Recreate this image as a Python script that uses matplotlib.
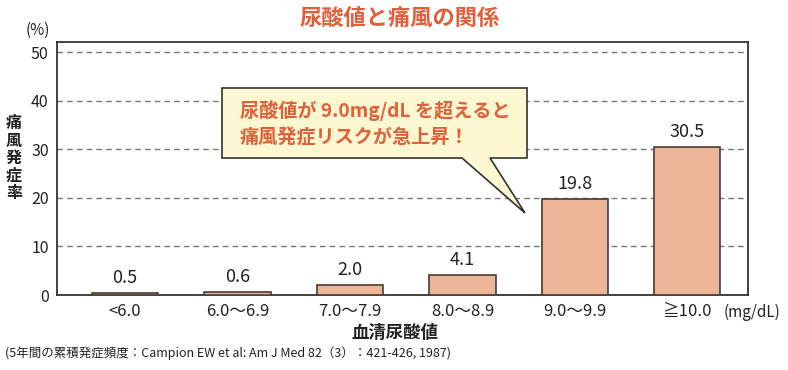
import matplotlib.pyplot as plt
from matplotlib.patches import Polygon

plt.rcParams['font.family'] = ['Noto Sans CJK JP', 'DejaVu Sans']

categories = ['<6.0', '6.0～6.9', '7.0～7.9', '8.0～8.9', '9.0～9.9', '≧10.0']
rates = [0.5, 0.6, 2.0, 4.1, 19.8, 30.5]
yticks = [0, 10, 20, 30, 40, 50]

W, H = 788, 370
fig = plt.figure(figsize=(W / 100, H / 100), dpi=100)
ax = fig.add_axes([57 / W, 1 - 295 / H, (748 - 57) / W, (295 - 42) / H])

x = list(range(len(categories)))
ax.bar(x, rates, width=0.59, color='#ecb598', edgecolor='#4a3c34', linewidth=1.2, zorder=3)
for xi, v in zip(x, rates):
    ax.text(xi, v + 1.2, f'{v:.1f}', ha='center', va='bottom', fontsize=13, color='#222222')

ax.set_xlim(-0.605, 5.54)
ax.set_ylim(0, 52.1)
ax.set_yticks(yticks)
ax.set_yticklabels([str(t) for t in yticks], fontsize=11.5, color='#222222')
ax.set_xticks(x)
ax.set_xticklabels(categories, fontsize=12, color='#222222')
ax.tick_params(length=0, pad=6)
ax.yaxis.grid(True, linestyle=(0, (4, 3)), color='#777777', linewidth=1)
ax.set_axisbelow(True)
for s in ax.spines.values():
    s.set_color('#333333')
    s.set_linewidth(1.3)

fig.text(400 / W, 1 - 18 / H, '尿酸値と痛風の関係', ha='center', va='center',
         fontsize=16, color='#e0603a', fontweight='bold')
fig.text(38 / W, 1 - 30 / H, '(%)', ha='center', va='center', fontsize=11, color='#222222')
fig.text(14 / W, 1 - 158 / H, '痛\n風\n発\n症\n率', ha='center', va='center',
         fontsize=11.5, fontweight='bold', color='#222222', linespacing=1.1)
fig.text(752 / W, 1 - 312 / H, '(mg/dL)', ha='center', va='center',
         fontsize=11, color='#222222')
fig.text(395 / W, 1 - 333 / H, '血清尿酸値', ha='center', va='center',
         fontsize=12.5, fontweight='bold', color='#222222')
fig.text(5 / W, 1 - 353 / H, '(5年間の累積発症頻度：Campion EW et al: Am J Med 82（3）：421-426, 1987)',
         ha='left', va='center', fontsize=9, color='#222222')

# speech bubble in pixel coords
def px(xp, yp):
    return (xp / W, 1 - yp / H)

bubble = [px(222, 88), px(527, 88), px(527, 158), px(490, 158), px(525, 213),
          px(462, 158), px(222, 158)]
fig.patches.append(Polygon(bubble, closed=True, transform=fig.transFigure,
                           facecolor='#fdf7d2', edgecolor='#333333', linewidth=1.2, zorder=5))
fig.text(240 / W, 1 - 111 / H, '尿酸値が 9.0mg/dL を超えると', ha='left', va='center',
         fontsize=13.8, fontweight='bold', color='#e0603a', zorder=6)
fig.text(240 / W, 1 - 138 / H, '痛風発症リスクが急上昇！', ha='left', va='center',
         fontsize=13.8, fontweight='bold', color='#e0603a', zorder=6)

fig.savefig('out.png', dpi=100)
